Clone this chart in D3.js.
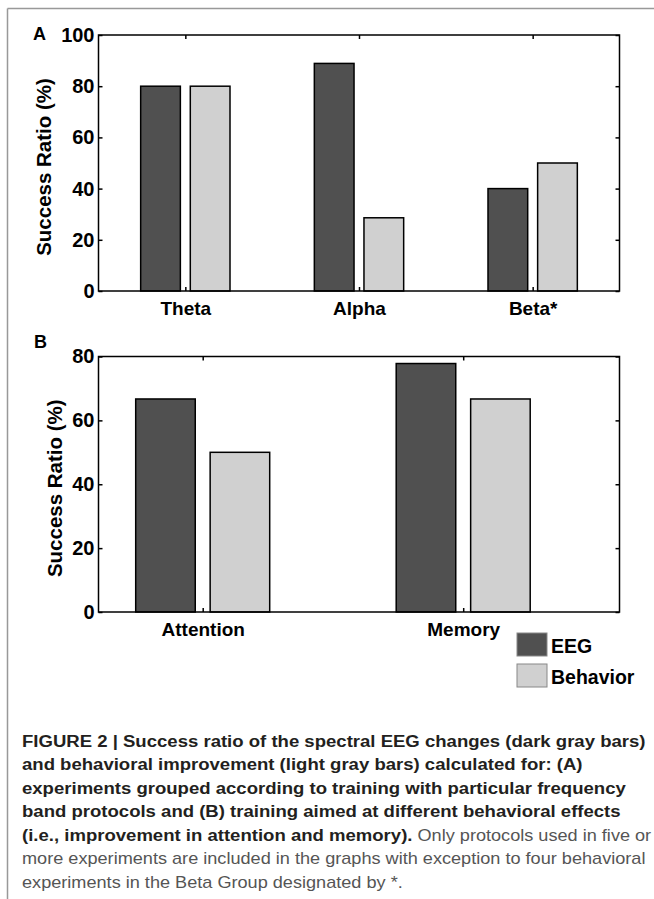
<!DOCTYPE html>
<html lang="en">
<head>
<meta charset="UTF-8">
<title>Figure 2 - Success Ratio</title>
<script src="https://d3js.org/d3.v7.min.js"></script>
<style>
  body { margin: 0; background: #fff; }
  svg text { font-family: "Liberation Sans", Arial, Helvetica, sans-serif; }
</style>
</head>
<body>
<svg id="fig" width="654" height="899"></svg>
<script>

// panel A: frequency band protocols
const freqBands = ["Theta", "Alpha", "Beta*"];
const freqEEG = [80, 88.9, 40];
const freqBehavior = [80, 28.6, 50];
const ticksA = [0, 20, 40, 60, 80, 100];

// panel B: behavioral effects
const effects = ["Attention", "Memory"];
const effectEEG = [66.7, 77.8];
const effectBehavior = [50, 66.7];
const ticksB = [0, 20, 40, 60, 80];

const seriesNames = ["EEG", "Behavior"];
const seriesColors = ["#505050", "#d0d0d0"];

const captionLines = [
  [["FIGURE 2 | Success ratio of the spectral EEG changes (dark gray bars)", true]],
  [["and behavioral improvement (light gray bars) calculated for: (A)", true]],
  [["experiments grouped according to training with particular frequency", true]],
  [["band protocols and (B) training aimed at different behavioral effects", true]],
  [["(i.e., improvement in attention and memory).", true], [" Only protocols used in five or", false]],
  [["more experiments are included in the graphs with exception to four behavioral", false]],
  [["experiments in the Beta Group designated by *.", false]]
];

const svg = d3.select("#fig");

// outer frame (top + left only)
svg.append("line").attr("x1", 7.5).attr("y1", 8.5).attr("x2", 654).attr("y2", 8.5)
   .attr("stroke", "#999").attr("stroke-width", 1.5);
svg.append("line").attr("x1", 7.5).attr("y1", 8.5).attr("x2", 7.5).attr("y2", 899)
   .attr("stroke", "#999").attr("stroke-width", 1.5);

// MATLAB style grouped bars: group width 0.571, each bar 0.229 wide
const barW = 0.2286, barOff = 0.1429;

function drawPanel(o) {
  const x = d3.scaleLinear().domain(o.xDomain).range([o.left, o.right]);
  const y = d3.scaleLinear().domain([0, o.yMax]).range([o.bottom, o.top]);
  const g = svg.append("g");

  const rows = o.cats.map((c, i) => ({ c, i: i + 1, v: [o.eeg[i], o.beh[i]] }));
  [0, 1].forEach(s => {
    g.selectAll("rect.s" + s)
      .data(rows)
      .enter()
      .append("rect")
      .attr("class", "s" + s)
      .attr("x", d => x(d.i + (s === 0 ? -barOff : barOff) - barW / 2))
      .attr("width", d => x(barW) - x(0))
      .attr("y", d => y(d.v[s]))
      .attr("height", d => y(0) - y(d.v[s]))
      .attr("fill", seriesColors[s])
      .attr("stroke", "#000")
      .attr("stroke-width", 1.5);
  });

  const style = ax => {
    ax.select(".domain").remove();
    ax.selectAll(".tick line").attr("stroke", "#000").attr("stroke-width", 1.5);
    ax.attr("font-family", null).attr("font-size", null);
  };

  const left = g.append("g").attr("transform", `translate(${o.left},0)`)
    .call(d3.axisLeft(y).tickValues(o.ticks).tickSize(-4).tickPadding(4));
  style(left);
  left.selectAll("text").attr("font-size", 20).attr("font-weight", "bold").attr("fill", "#000");

  g.append("g").attr("transform", `translate(${o.right},0)`)
    .call(d3.axisRight(y).tickValues(o.ticks).tickSize(-4).tickFormat(""))
    .call(style);

  const bottom = g.append("g").attr("transform", `translate(0,${o.bottom})`)
    .call(d3.axisBottom(x).tickValues(rows.map(d => d.i)).tickSize(-4).tickPadding(11)
      .tickFormat(d => o.cats[d - 1]));
  style(bottom);
  bottom.selectAll("text").attr("font-size", 19).attr("font-weight", "bold").attr("fill", "#000");

  g.append("g").attr("transform", `translate(0,${o.top})`)
    .call(d3.axisTop(x).tickValues(rows.map(d => d.i)).tickSize(-4).tickFormat(""))
    .call(style);

  g.append("rect")
    .attr("x", o.left).attr("y", o.top)
    .attr("width", o.right - o.left).attr("height", o.bottom - o.top)
    .attr("fill", "none").attr("stroke", "#000").attr("stroke-width", 1.5);

  g.append("text")
    .attr("transform", `translate(${o.titleX},${(o.top + o.bottom) / 2 + 4}) rotate(-90)`)
    .attr("text-anchor", "middle")
    .attr("font-size", 20.5).attr("font-weight", "bold")
    .text("Success Ratio (%)");

  g.append("text")
    .attr("x", o.letterX).attr("y", o.letterY)
    .attr("font-size", 18).attr("font-weight", "bold")
    .text(o.letter);
}

drawPanel({
  cats: freqBands, eeg: freqEEG, beh: freqBehavior, ticks: ticksA, yMax: 100,
  xDomain: [0.5, 3.5], left: 98.5, right: 619.5, top: 35, bottom: 291,
  titleX: 51, letter: "A", letterX: 33, letterY: 40
});

drawPanel({
  cats: effects, eeg: effectEEG, beh: effectBehavior, ticks: ticksB, yMax: 80,
  xDomain: [0.6, 2.6], left: 98.5, right: 619.5, top: 356.5, bottom: 612,
  titleX: 62, letter: "B", letterX: 34, letterY: 348
});

// legend
const legend = svg.append("g").attr("transform", "translate(517,633)");
seriesNames.forEach((n, i) => {
  legend.append("rect")
    .attr("x", 0).attr("y", i * 31)
    .attr("width", 30).attr("height", 23)
    .attr("fill", seriesColors[i]).attr("stroke", "#888").attr("stroke-width", 1);
  legend.append("text")
    .attr("x", 34).attr("y", i * 31 + 20)
    .attr("font-size", 19.5).attr("font-weight", "bold")
    .text(n);
});

// caption: bold part stretched to the width of the original first line,
// regular (lighter) part sized so the sixth line ends at the same edge
const cap = svg.append("g");
const capLines = [];
captionLines.forEach((segs, i) => {
  const t = cap.append("text")
    .attr("x", 0).attr("y", 747 + i * 23.5)
    .attr("font-size", 17);
  segs.forEach(([s, b]) => {
    t.append("tspan")
      .attr("class", b ? "bold" : "reg")
      .attr("font-weight", b ? "bold" : "normal")
      .attr("fill", b ? "#231f20" : "#555")
      .text(s);
  });
  capLines.push(t);
});
const sx = 624 / capLines[0].node().getComputedTextLength();
const regSize = 17 * 624 / (capLines[5].node().getComputedTextLength() * sx);
cap.selectAll("tspan.reg").attr("font-size", regSize);
cap.attr("transform", `translate(22,0) scale(${sx},1)`);

</script>
</body>
</html>
